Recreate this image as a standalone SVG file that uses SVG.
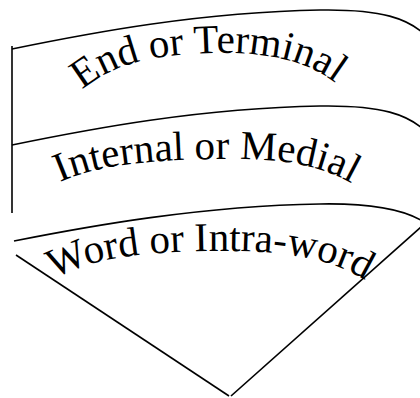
<svg xmlns="http://www.w3.org/2000/svg" width="420" height="398" viewBox="0 0 420 398">
<style>
.ln{fill:none;stroke:#000;stroke-width:1.6}
.lb{font-family:"Liberation Serif","Times New Roman",serif;font-size:41px;fill:#000}
</style>
<defs>
<path id="p1" d="M 82,90 C 114,64 150,55 210,53 C 268,52 314,60 348,94"/>
<path id="p2" d="M 60,182 C 98,165 148,160 218,159 C 288,158 330,166 368,194"/>
<path id="p3" d="M 54,279 C 90,259 138,252 208,251 C 288,250 335,258 374,286"/>
</defs>
<rect width="420" height="398" fill="#fff"/>
<g id="connectors">
<path class="ln" d="M 12,46 L 12,213"/>
<path class="ln" d="M 12,49 C 90,33 200,12 320,10 C 380,9 410,18 428,38"/>
<path class="ln" d="M 12,145 C 90,129 200,108 320,106 C 380,105 410,114 428,134"/>
<path class="ln" d="M 14,241 C 90,226 200,206 320,204 C 375,203 405,210 424,222"/>
<path class="ln" d="M 16,255 L 229,396"/>
<path class="ln" d="M 421,227 L 231,396"/>
</g>
<g id="n1"><text class="lb"><textPath href="#p1">End or Terminal</textPath></text></g>
<g id="n2"><text class="lb"><textPath href="#p2">Internal or Medial</textPath></text></g>
<g id="n3"><text class="lb"><textPath href="#p3">Word or Intra-word</textPath></text></g>
</svg>
